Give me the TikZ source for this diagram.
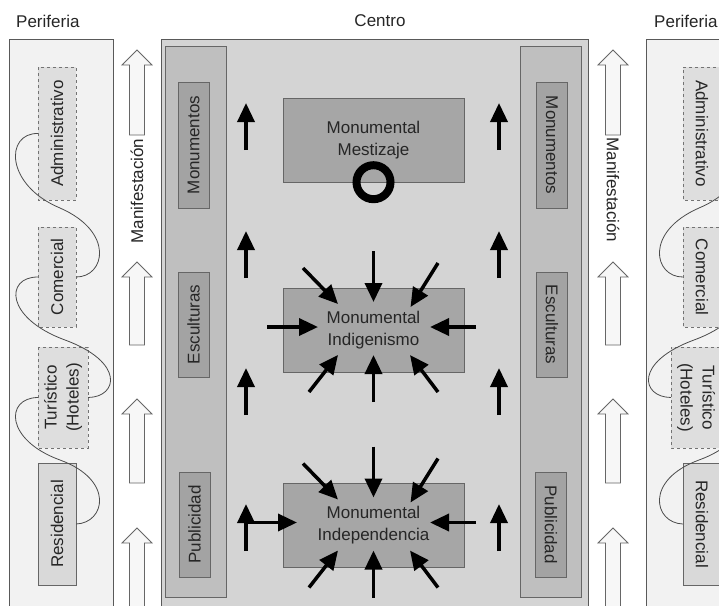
\documentclass[tikz,border=0pt]{standalone}
\usepackage{fontspec}
\setmainfont{Liberation Sans}
\usetikzlibrary{arrows.meta, calc, positioning}
\tikzset{
    periferia/.style = {rectangle, draw=black!65, fill=black!5, inner sep=0pt},
    zona/.style = {rectangle, dashed, draw=black!55, fill=black!13, inner sep=0pt, minimum height=38pt, align=center},
    zonafija/.style = {rectangle, draw=black!60, fill=black!15, inner sep=0pt, minimum height=38pt},
    centro/.style = {rectangle, draw=black!65, fill=black!17, inner sep=0pt},
    columna/.style = {rectangle, draw=black!60, fill=black!25, inner sep=0pt, minimum width=61pt, minimum height=551pt},
    etiqueta/.style = {rectangle, draw=black!60, fill=black!36, inner sep=0pt, minimum height=31pt},
    monumento/.style = {rectangle, draw=black!60, fill=black!35, inner sep=0pt, minimum width=181pt, minimum height=84pt, align=center},
    flecha/.style = {line width=3.5pt, -{Triangle[length=19pt,width=17pt]}},
    hueca/.style = {draw=black!60, fill=black!3, line width=0.8pt},
    enlace/.style = {draw=black!70, line width=0.8pt}
}

\begin{document}
\begin{tikzpicture}[x=1pt, y=-1pt, font=\fontsize{17}{22}\selectfont, text=black!85]

\clip (0,0) rectangle (719,605);
\fill[white] (0,0) rectangle (719,605);

% titulos
\node[anchor=west, inner sep=0pt] (tperL) at (16,21) {Periferia};
\node (tcentro) at (380,21) {Centro};
\node[anchor=west, inner sep=0pt] (tperR) at (654,21) {Periferia};

% periferias (la derecha es espejo de la izquierda)
\foreach \lado/\dx/\k/\giro in {L/0/1/90, R/759/-1/-90} {
  \begin{scope}[xshift=\dx, xscale=\k]
    \node[periferia, minimum width=104pt, minimum height=590pt] (panel\lado) at (61,334) {};
    \node[zona, rotate=\giro, minimum width=133pt] (adm\lado) at (57,133.5) {Administrativo};
    \node[zona, rotate=\giro, minimum width=100pt] (com\lado) at (57,277) {Comercial};
    \node[zona, rotate=\giro, minimum width=101pt, minimum height=50pt] (tur\lado) at (63,397.5) {Turístico\\(Hoteles)};
    \node[zonafija, rotate=\giro, minimum width=122pt] (res\lado) at (57,524) {Residencial};
    \draw[enlace] (adm\lado.north) .. controls (5,133) and (5,185) .. (60,208) .. controls (115,232) and (105,277) .. (com\lado.south);
    \draw[enlace] (com\lado.north) .. controls (5,277) and (5,318) .. (65,340) .. controls (125,362) and (118,397) .. (tur\lado.south);
    \draw[enlace] (tur\lado.north) .. controls (5,398) and (5,440) .. (60,460) .. controls (115,480) and (105,523) .. (res\lado.south);
  \end{scope}
}

% manifestacion
\foreach \x in {137,613}
  \foreach \t/\b in {50/135, 262/345, 399/483, 528/640}
    \draw[hueca] (\x-7.5,\b) -- (\x-7.5,\t+15) -- (\x-15,\t+15) -- (\x,\t) -- (\x+15,\t+15) -- (\x+7.5,\t+15) -- (\x+7.5,\b) -- cycle;
\node[rotate=90] (manL) at (137,191) {Manifestación};
\node[rotate=-90] (manR) at (613,190) {Manifestación};

% centro
\node[centro, minimum width=427pt, minimum height=590pt] (centro) at (374.5,334) {};
\node[columna] (colL) at (195.5,321.5) {};
\node[columna] (colR) at (550.5,321.5) {};
\node[etiqueta, rotate=90, minimum width=126pt] (monL) at (193.5,145) {Monumentos};
\node[etiqueta, rotate=90, minimum width=105pt] (escL) at (193.5,324.5) {Esculturas};
\node[etiqueta, rotate=90, minimum width=105pt] (pubL) at (194.5,524.5) {Publicidad};
\node[etiqueta, rotate=-90, minimum width=126pt] (monR) at (552,145) {Monumentos};
\node[etiqueta, rotate=-90, minimum width=105pt] (escR) at (552,324.5) {Esculturas};
\node[etiqueta, rotate=-90, minimum width=105pt] (pubR) at (551,524.5) {Publicidad};

\node[monumento] (mes) at (373.5,140) {Monumental\\Mestizaje};
\node[monumento] (ind) at (373.5,330) {Monumental\\Indigenismo};
\node[monumento] (dep) at (373.5,525.5) {Monumental\\Independencia};
\node[circle, draw=black, line width=8pt, minimum size=34pt, inner sep=0pt] (nudo) at (mes.south) {};

% flechas hacia arriba
\foreach \x in {246,499}
  \foreach \y in {150,278,415,551}
    \draw[flecha] (\x,\y) -- (\x,\y-47);

% flechas hacia los monumentos
\foreach \m in {ind,dep}
  \foreach \a/\b/\c/\d in {0/-79/0/-28, -70.5/-62/-35.5/-26, 64.5/-67/37/-23, 102.5/-3/56.5/-3, -64.5/62/-35.5/25, 0/72/0/25, 64.5/62/36.5/25}
    \draw[flecha] ($(\m.center)+(\a,\b)$) -- ($(\m.center)+(\c,\d)$);
\draw[flecha] ($(ind.center)+(-106.5,-3)$) -- ($(ind.center)+(-55.5,-3)$);
\draw[flecha] ($(dep.center)+(-126.5,-3)$) -- ($(dep.center)+(-76.5,-3)$);

\end{tikzpicture}
\end{document}
